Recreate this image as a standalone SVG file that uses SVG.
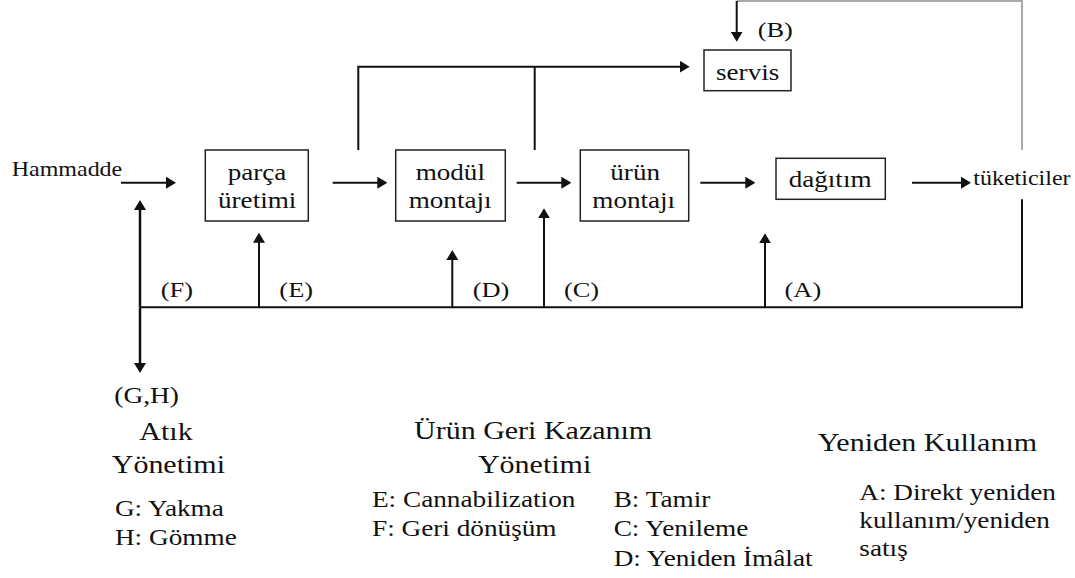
<svg xmlns="http://www.w3.org/2000/svg" width="1075" height="578" viewBox="0 0 1075 578">
  <style>
    text { font-family: "Liberation Serif", "Times New Roman", serif; fill: #111; }
    .box { fill: #fff; stroke: #222; stroke-width: 1.5; }
    .lbl { font-size: 22.6px; }
    .tag { font-size: 22px; }
    .item { font-size: 22.7px; }
    .head { font-size: 25px; }
    .conn { fill: none; stroke: #111; stroke-width: 2; }
    .grey { fill: none; stroke: #aaa; stroke-width: 2; }
  </style>
  <defs>
    <marker id="arrow" viewBox="0 0 10 12" refX="2" refY="6" markerWidth="10" markerHeight="12" markerUnits="userSpaceOnUse" orient="auto">
      <path d="M0,0 L10,6 L0,12 z" fill="#111"/>
    </marker>
  </defs>
  <rect width="1075" height="578" fill="#fff"/>

  <!-- connectors; all type is set 1.2x wide, so text x values are divided by 1.2 -->
  <g id="connectors">
    <!-- main flow -->
    <line class="conn" x1="121" y1="182.7" x2="168" y2="182.7" marker-end="url(#arrow)"/>
    <line class="conn" x1="332.7" y1="182.7" x2="379.3" y2="182.7" marker-end="url(#arrow)"/>
    <line class="conn" x1="516.7" y1="182.7" x2="563.3" y2="182.7" marker-end="url(#arrow)"/>
    <line class="conn" x1="700.3" y1="182.7" x2="747.3" y2="182.7" marker-end="url(#arrow)"/>
    <line class="conn" x1="912" y1="182.7" x2="963" y2="182.7" marker-end="url(#arrow)"/>
    <!-- to servis -->
    <path class="conn" d="M358.3,150 V66.7 H681.7" marker-end="url(#arrow)"/>
    <line class="conn" x1="534.7" y1="66.7" x2="534.7" y2="150"/>
    <!-- (B) return from consumers -->
    <path class="grey" d="M1022,150 V1 H736.7"/>
    <line class="conn" x1="736.7" y1="1" x2="736.7" y2="33.7" marker-end="url(#arrow)"/>
    <!-- reverse channel -->
    <path class="conn" d="M1022,199.3 V307.3 H140"/>
    <line class="conn" x1="140" y1="307.3" x2="140" y2="208" marker-end="url(#arrow)" style="stroke-width:2.5"/>
    <line class="conn" x1="140" y1="307.3" x2="140" y2="365" marker-end="url(#arrow)" style="stroke-width:2.5"/>
    <line class="conn" x1="259" y1="307.3" x2="259" y2="240.7" marker-end="url(#arrow)"/>
    <line class="conn" x1="452.3" y1="307.3" x2="452.3" y2="258" marker-end="url(#arrow)"/>
    <line class="conn" x1="544" y1="307.3" x2="544" y2="216.3" marker-end="url(#arrow)"/>
    <line class="conn" x1="765" y1="307.3" x2="765" y2="241.3" marker-end="url(#arrow)"/>
    <!-- connector labels -->
    <text class="tag" transform="scale(1.2,1)" x="631.4" y="37.3">(B)</text>
    <text class="tag" transform="scale(1.2,1)" x="133.9" y="297">(F)</text>
    <text class="tag" transform="scale(1.2,1)" x="232.8" y="297">(E)</text>
    <text class="tag" transform="scale(1.2,1)" x="393.9" y="297">(D)</text>
    <text class="tag" transform="scale(1.2,1)" x="470" y="297">(C)</text>
    <text class="tag" transform="scale(1.2,1)" x="653.8" y="297">(A)</text>
  </g>

  <g id="hammadde">
    <text transform="scale(1.2,1)" x="9.75" y="176" style="font-size:20px">Hammadde</text>
  </g>

  <g id="parca-uretimi">
    <rect class="box" x="205.3" y="150" width="103" height="71"/>
    <text class="lbl" transform="scale(1.2,1)" x="189.75" y="180">parça</text>
    <text class="lbl" transform="scale(1.2,1)" x="181.7" y="208.3">üretimi</text>
  </g>

  <g id="modul-montaji">
    <rect class="box" x="395.7" y="150" width="109.6" height="71"/>
    <text class="lbl" transform="scale(1.2,1)" x="346.4" y="180">modül</text>
    <text class="lbl" transform="scale(1.2,1)" x="340.6" y="208.3">montajı</text>
  </g>

  <g id="urun-montaji">
    <rect class="box" x="580.3" y="150" width="108.4" height="71"/>
    <text class="lbl" transform="scale(1.2,1)" x="508.6" y="180">ürün</text>
    <text class="lbl" transform="scale(1.2,1)" x="493.6" y="208.3">montajı</text>
  </g>

  <g id="servis">
    <rect class="box" x="704" y="50" width="87" height="40.7"/>
    <text class="lbl" transform="scale(1.2,1)" x="596.7" y="80">servis</text>
  </g>

  <g id="dagitim">
    <rect class="box" x="776" y="158.3" width="109.3" height="41"/>
    <text class="lbl" transform="scale(1.2,1)" x="657.25" y="186.7">dağıtım</text>
  </g>

  <g id="tuketiciler">
    <text transform="scale(1.2,1)" x="811.1" y="185" style="font-size:20px">tüketiciler</text>
  </g>

  <g id="atik-yonetimi">
    <text class="tag" transform="scale(1.2,1)" x="95.25" y="403" style="font-size:22.8px">(G,H)</text>
    <text class="head" transform="scale(1.2,1)" x="116.1" y="439.7">Atık</text>
    <text class="head" transform="scale(1.2,1)" x="93.1" y="473">Yönetimi</text>
    <text class="item" transform="scale(1.2,1)" x="95.8" y="515.7">G: Yakma</text>
    <text class="item" transform="scale(1.2,1)" x="95.8" y="544.7">H: Gömme</text>
  </g>

  <g id="urun-geri-kazanim">
    <text class="head" transform="scale(1.2,1)" x="345" y="438.7">Ürün Geri Kazanım</text>
    <text class="head" transform="scale(1.2,1)" x="398.3" y="473">Yönetimi</text>
    <text class="item" transform="scale(1.2,1)" x="310" y="507.3">E: Cannabilization</text>
    <text class="item" transform="scale(1.2,1)" x="310" y="536.3">F: Geri dönüşüm</text>
    <text class="item" transform="scale(1.2,1)" x="511.4" y="507.3">B: Tamir</text>
    <text class="item" transform="scale(1.2,1)" x="511.4" y="536.3">C: Yenileme</text>
    <text class="item" transform="scale(1.2,1)" x="511.4" y="566.3">D: Yeniden İmâlat</text>
  </g>

  <g id="yeniden-kullanim">
    <text class="head" transform="scale(1.2,1)" x="681.4" y="451.3">Yeniden Kullanım</text>
    <text class="item" transform="scale(1.2,1)" x="716.1" y="499.7">A: Direkt yeniden</text>
    <text class="item" transform="scale(1.2,1)" x="716.1" y="528">kullanım/yeniden</text>
    <text class="item" transform="scale(1.2,1)" x="716.1" y="556.3">satış</text>
  </g>
</svg>
